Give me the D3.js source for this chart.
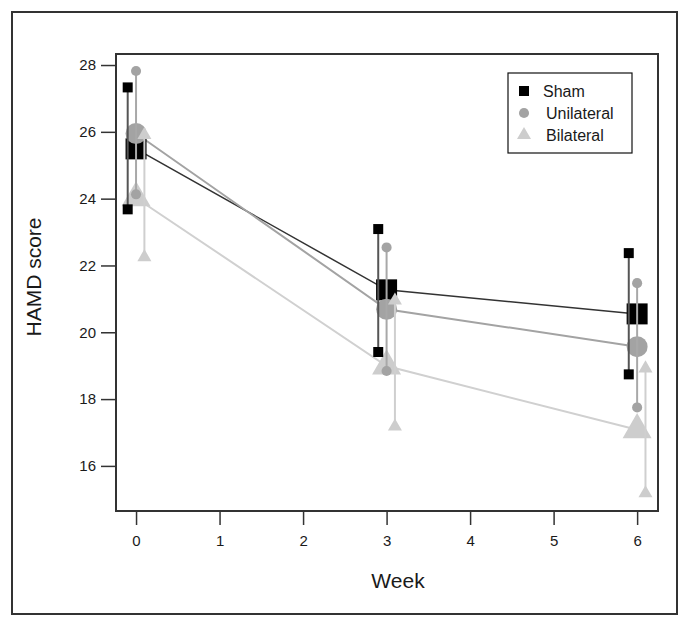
<!DOCTYPE html>
<html><head><meta charset="utf-8">
<script src="https://cdn.jsdelivr.net/npm/d3@7/dist/d3.min.js"></script>
<style>body{margin:0;background:#fff}text{font-family:"Liberation Sans",Arial,sans-serif;fill:#1a1a1a}</style>
</head><body><svg id="c" width="690" height="628"></svg>
<script>
const weeks = [0, 3, 6];
const groups = ["Sham", "Unilateral", "Bilateral"];
const shamMean  = [25.49, 21.27, 20.55];
const shamUpper = [27.33, 23.09, 22.37];
const shamLower = [23.68, 19.41, 18.74];
const uniMean   = [25.95, 20.69, 19.57];
const uniUpper  = [27.82, 22.54, 21.47];
const uniLower  = [24.13, 18.84, 17.75];
const biMean    = [24.02, 18.99, 17.08];
const biUpper   = [25.91, 20.95, 18.92];
const biLower   = [22.25, 17.18, 15.18];
const xTicks = [0, 1, 2, 3, 4, 5, 6];
const yTicks = [16, 18, 20, 22, 24, 26, 28];

const svg = d3.select("#c");
const x = d3.scaleLinear().domain([-0.24, 6.25]).range([116, 658]);
const y = d3.scaleLinear().domain([14.65, 28.33]).range([511, 54]);

// outer frame
svg.append("rect").attr("x",12).attr("y",12).attr("width",665).attr("height",602)
  .attr("fill","none").attr("stroke","#333").attr("stroke-width",2);

// axes
const yAxis = svg.append("g").attr("transform","translate(116,0)")
  .call(d3.axisLeft(y).tickValues(yTicks).tickSize(15).tickPadding(5).tickFormat(d3.format("d")));
const xAxis = svg.append("g").attr("transform","translate(0,511)")
  .call(d3.axisBottom(x).tickValues(xTicks).tickSize(14).tickPadding(10).tickFormat(d3.format("d")));
[yAxis, xAxis].forEach(a => {
  a.select(".domain").remove();
  a.selectAll(".tick line").attr("stroke","#333").attr("stroke-width",1.5);
  a.selectAll(".tick text").attr("font-size",15).attr("fill","#1a1a1a");
});
// plot box
svg.append("rect").attr("x",116).attr("y",54).attr("width",542).attr("height",457)
  .attr("fill","none").attr("stroke","#333").attr("stroke-width",2);

svg.append("text").attr("x",398).attr("y",588).attr("text-anchor","middle").attr("font-size",21).text("Week");
svg.append("text").attr("transform","translate(41,277) rotate(-90)").attr("text-anchor","middle").attr("font-size",21).text("HAMD score");

const series = [
  {name:"Sham", mean:shamMean, up:shamUpper, lo:shamLower, off:-0.1, sym:d3.symbolSquare, big:441, small:100, fill:"#000", line:"#333", lw:1.5, bar:"#555"},
  {name:"Unilateral", mean:uniMean, up:uniUpper, lo:uniLower, off:0, sym:d3.symbolCircle, big:346, small:80, fill:"#a3a3a3", line:"#a3a3a3", lw:2, bar:"#a8a8a8"},
  {name:"Bilateral", mean:biMean, up:biUpper, lo:biLower, off:0.1, sym:d3.symbolTriangle, big:364, small:85, fill:"#cdcdcd", line:"#d0d0d0", lw:2, bar:"#cfcfcf"}
];

// lines
series.forEach(s => {
  svg.append("path").datum(weeks.map((w,i)=>[w, s.mean[i]]))
    .attr("fill","none").attr("stroke",s.line).attr("stroke-width",s.lw)
    .attr("d", d3.line().x(d=>x(d[0])).y(d=>y(d[1])));
});
// mean markers
series.forEach(s => {
  svg.selectAll(null).data(weeks.map((w,i)=>[w, s.mean[i]])).enter().append("path")
    .attr("transform", d=>`translate(${x(d[0])},${y(d[1])})`)
    .attr("d", d3.symbol().type(s.sym).size(s.big)).attr("fill", s.fill);
});
// error bars
series.forEach(s => {
  const g = svg.append("g");
  weeks.forEach((w,i) => {
    const xx = x(w + s.off);
    g.append("line").attr("x1",xx).attr("x2",xx).attr("y1",y(s.up[i])).attr("y2",y(s.lo[i]))
      .attr("stroke",s.bar).attr("stroke-width",2);
    [s.up[i], s.lo[i]].forEach(v => {
      g.append("path").attr("transform",`translate(${xx},${y(v)})`)
        .attr("d", d3.symbol().type(s.sym).size(s.small)).attr("fill", s.fill);
    });
  });
});

// legend
const lg = svg.append("g");
lg.append("rect").attr("x",508).attr("y",73).attr("width",124).attr("height",80)
  .attr("fill","#fff").attr("stroke","#111").attr("stroke-width",1.2);
series.forEach((s,i) => {
  const cy = 91 + i*22;
  lg.append("path").attr("transform",`translate(524,${cy})`)
    .attr("d", d3.symbol().type(s.sym).size(s.small)).attr("fill", s.fill);
  lg.append("text").attr("x", i===0 ? 543 : 546).attr("y", cy+6).attr("font-size",16).text(groups[i]);
});
</script></body></html>
